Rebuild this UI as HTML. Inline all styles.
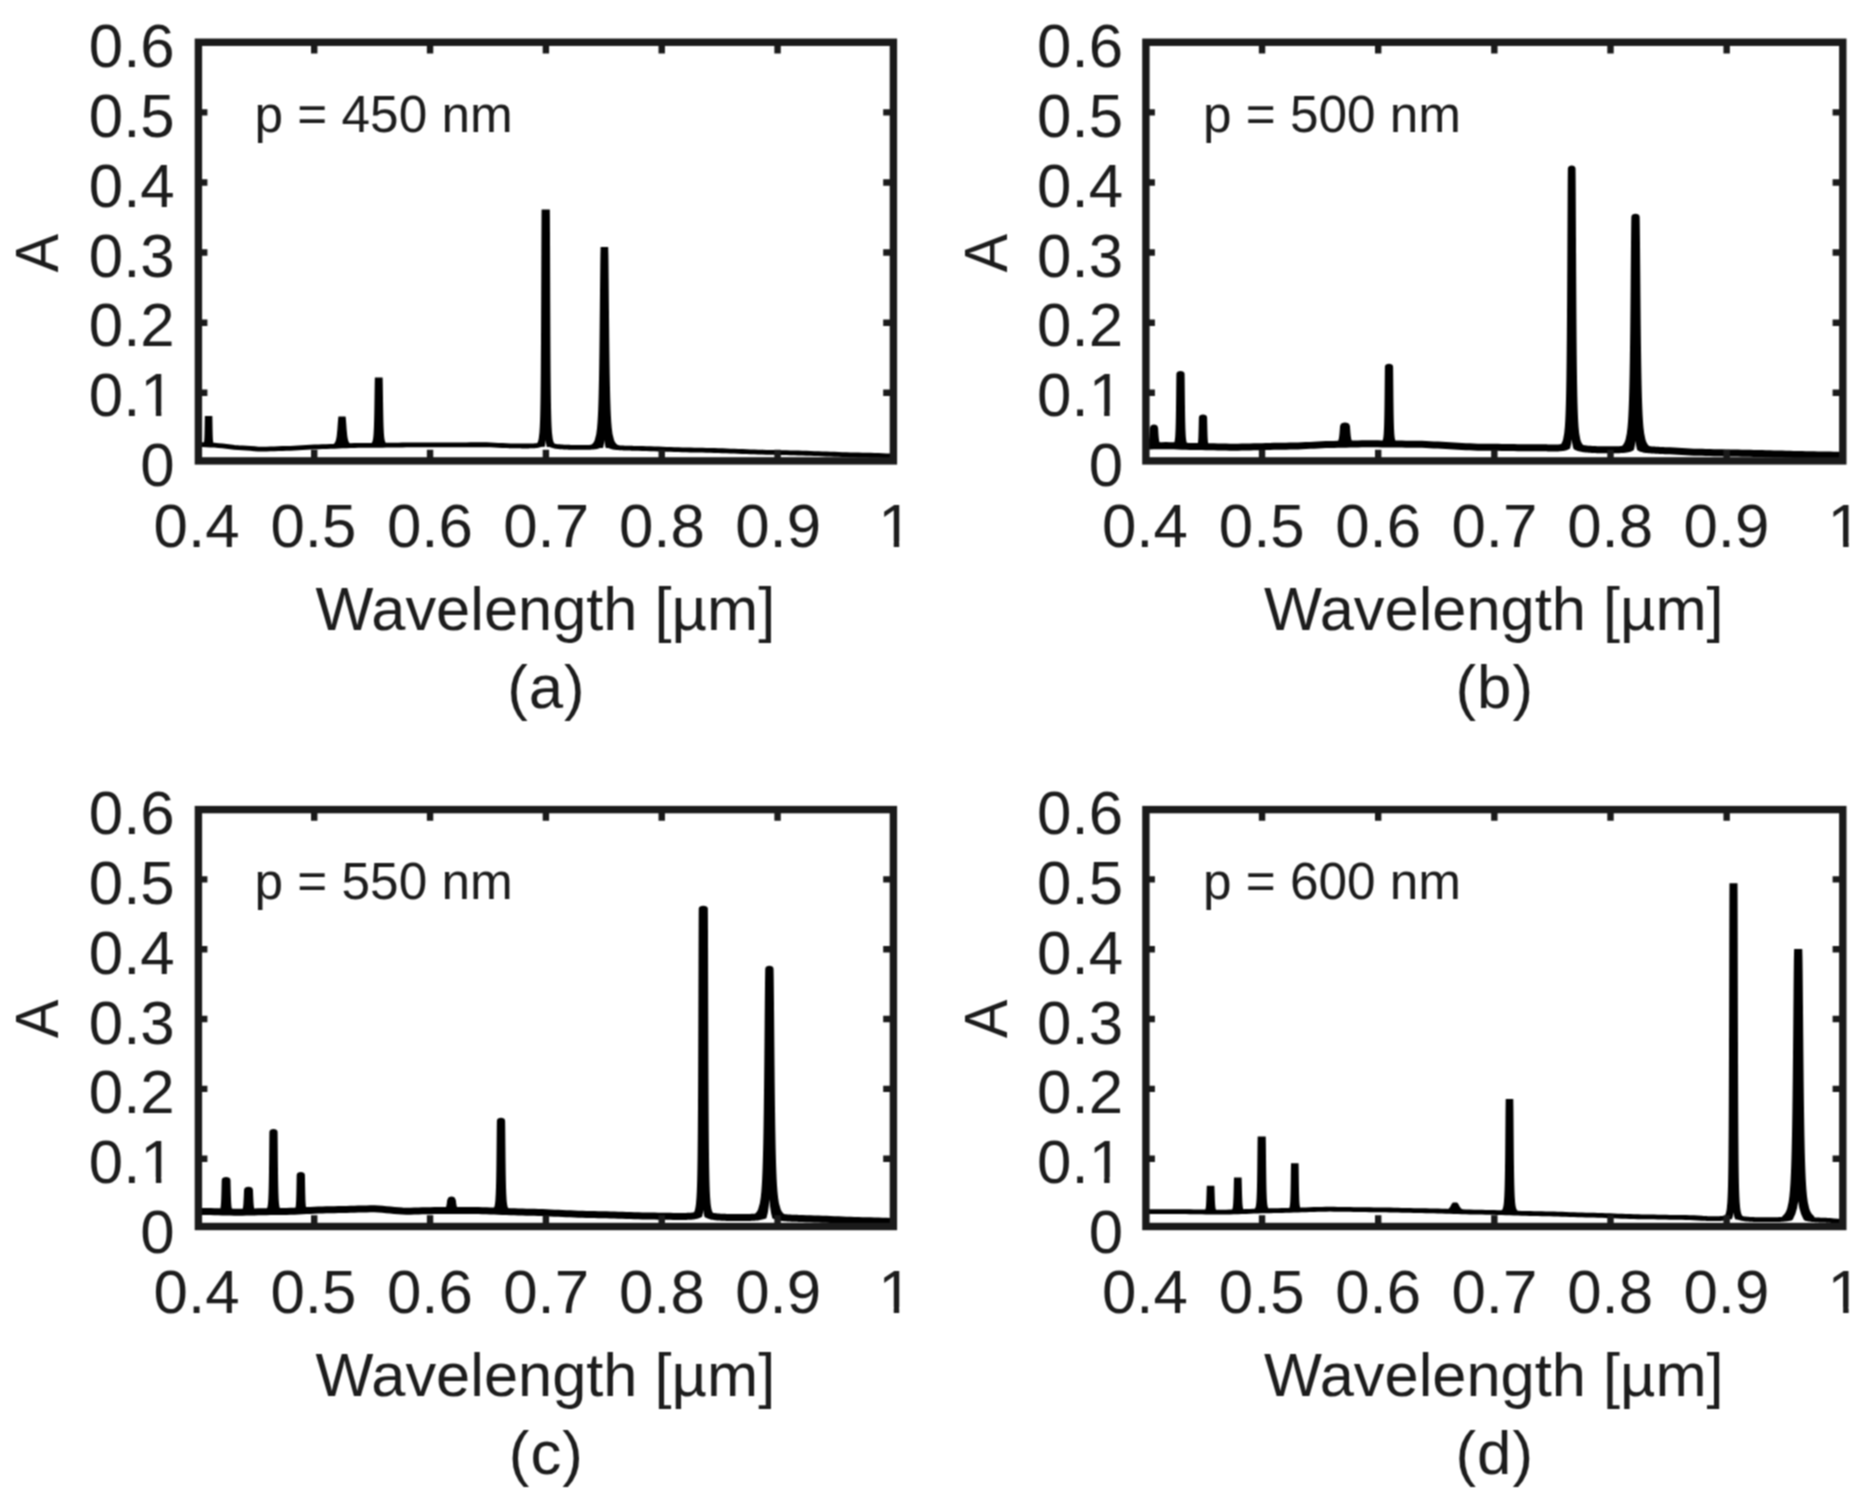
<!DOCTYPE html>
<html lang="en">
<head>
<meta charset="utf-8">
<title>Absorption spectra for different periods</title>
<style>
html,body{margin:0;padding:0;background:#fff;}
body{width:1874px;height:1503px;overflow:hidden;}
svg{display:block;}
</style>
</head>
<body>
<svg width="1874" height="1503" viewBox="0 0 1874 1503" font-family='"Liberation Sans", sans-serif' fill="#1c1c1c">
<defs><filter id="soft" color-interpolation-filters="sRGB" x="0" y="0" width="1874" height="1503" filterUnits="userSpaceOnUse"><feConvolveMatrix order="3" kernelMatrix="1 2 1 2 4 2 1 2 1" divisor="16" edgeMode="duplicate" preserveAlpha="true"/></filter></defs>
<rect width="1874" height="1503" fill="#ffffff"/>
<g filter="url(#soft)">
<rect width="1874" height="1503" fill="#ffffff"/>
<g id="panel-a">
<clipPath id="clip-a"><rect x="198.4" y="42.25" width="695.0" height="418.65"/></clipPath>
<g clip-path="url(#clip-a)">
<polyline points="198.4,444.51 202.4,444.66 206.4,444.87 210.4,445.07 214.4,445.22 218.4,445.52 222.4,445.94 226.4,446.42 230.4,446.92 234.4,447.36 238.4,447.70 242.4,447.90 246.4,448.14 250.4,448.45 254.4,448.76 258.4,449.03 262.4,449.19 266.4,449.10 270.4,448.97 274.4,448.81 278.4,448.65 282.4,448.50 286.4,448.38 290.4,448.29 294.4,448.13 298.4,447.91 302.4,447.65 306.4,447.39 310.4,447.14 314.4,446.93 318.4,446.79 322.4,446.70 326.4,446.58 330.4,446.44 334.4,446.29 338.4,446.12 342.4,445.95 346.4,445.79 350.4,445.65 354.4,445.52 358.4,445.42 362.4,445.38 366.4,445.36 370.4,445.33 374.4,445.30 378.4,445.26 382.4,445.23 386.4,445.18 390.4,445.14 394.4,445.10 398.4,445.06 402.4,445.01 406.4,444.97 410.4,444.93 414.4,444.90 418.4,444.86 422.4,444.83 426.4,444.81 430.4,444.79 434.4,444.79 438.4,444.79 442.4,444.79 446.4,444.78 450.4,444.78 454.4,444.78 458.4,444.78 462.4,444.78 466.4,444.78 470.4,444.77 474.4,444.77 478.4,444.77 482.4,444.76 486.4,444.77 490.4,444.90 494.4,445.09 498.4,445.31 502.4,445.52 506.4,445.72 510.4,445.86 514.4,445.91 515.7,445.92 516.7,445.93 517.7,445.94 518.4,445.95 518.7,445.95 519.7,445.96 520.7,445.97 521.7,445.98 522.4,445.98 522.7,445.99 523.7,445.99 524.7,446.00 525.7,446.00 526.4,446.00 526.7,446.00 527.7,446.00 528.7,445.99 529.7,445.97 530.4,445.96 530.7,445.95 531.7,445.92 532.7,445.88 533.7,445.83 534.4,445.78 534.7,445.75 535.7,445.66 536.7,445.53 537.7,445.35 538.4,445.20 538.7,445.13 539.7,444.84 540.7,444.46 541.7,444.00 542.4,443.63 542.7,443.47 543.7,442.93 544.7,442.51 545.7,442.37 546.4,442.48 546.7,442.58 547.7,443.06 548.7,443.66 549.7,444.25 550.4,444.63 550.7,444.78 551.7,445.21 552.7,445.56 553.7,445.85 554.4,446.02 554.7,446.08 555.7,446.27 556.7,446.43 557.7,446.56 558.4,446.64 558.7,446.67 559.7,446.76 560.7,446.85 561.7,446.92 562.4,446.96 562.7,446.98 563.7,447.04 564.7,447.09 565.7,447.13 566.4,447.16 566.7,447.17 567.7,447.21 568.7,447.24 569.7,447.27 570.4,447.29 570.7,447.30 571.7,447.32 572.7,447.34 573.7,447.35 574.4,447.36 574.7,447.36 575.4,447.36 575.7,447.37 576.4,447.37 577.4,447.38 578.4,447.38 579.4,447.39 580.4,447.39 581.4,447.39 582.4,447.39 583.4,447.38 584.4,447.38 585.4,447.37 586.4,447.35 587.4,447.34 588.4,447.31 589.4,447.28 590.4,447.24 591.4,447.18 592.4,447.12 593.4,447.03 594.4,446.92 595.4,446.77 596.4,446.59 597.4,446.35 598.4,446.05 599.4,445.66 600.4,445.18 601.4,444.64 602.4,444.08 603.4,443.65 604.4,443.50 605.4,443.69 606.4,444.16 607.4,444.74 608.4,445.33 609.4,445.84 610.4,446.26 611.4,446.60 612.4,446.87 613.4,447.09 614.4,447.27 615.4,447.42 616.4,447.54 617.4,447.64 618.4,447.72 619.4,447.80 620.4,447.86 621.4,447.92 622.4,447.97 623.4,448.01 624.4,448.05 625.4,448.08 626.4,448.11 627.4,448.14 628.4,448.17 629.4,448.19 630.4,448.21 631.4,448.23 632.4,448.25 633.4,448.28 634.4,448.30 638.4,448.40 642.4,448.51 646.4,448.62 650.4,448.74 654.4,448.87 658.4,449.00 662.4,449.14 666.4,449.28 670.4,449.41 674.4,449.54 678.4,449.67 682.4,449.79 686.4,449.90 690.4,450.00 694.4,450.09 698.4,450.16 702.4,450.22 706.4,450.30 710.4,450.40 714.4,450.51 718.4,450.64 722.4,450.77 726.4,450.91 730.4,451.05 734.4,451.20 738.4,451.36 742.4,451.51 746.4,451.66 750.4,451.80 754.4,451.94 758.4,452.07 762.4,452.19 766.4,452.30 770.4,452.39 774.4,452.47 778.4,452.53 782.4,452.61 786.4,452.69 790.4,452.79 794.4,452.90 798.4,453.02 802.4,453.14 806.4,453.27 810.4,453.41 814.4,453.55 818.4,453.69 822.4,453.84 826.4,453.98 830.4,454.13 834.4,454.27 838.4,454.41 842.4,454.55 846.4,454.68 850.4,454.80 854.4,454.92 858.4,455.02 862.4,455.12 866.4,455.20 870.4,455.27 874.4,455.35 878.4,455.47 882.4,455.62 886.4,455.78 890.4,455.92 893.4,455.99" fill="none" stroke="#000" stroke-width="4.8" stroke-linejoin="round"/>
<path d="M204.90 416.00 L212.30 416.00 L212.36 417.00 L212.47 423.00 L212.57 429.00 L212.71 435.00 L212.74 435.75 L212.77 436.50 L212.80 437.25 L212.83 438.00 L212.87 438.75 L212.92 439.50 L212.98 440.25 L213.05 441.00 L213.15 441.75 L213.28 442.50 L213.43 443.09 L214.93 445.25 L202.27 444.65 L203.77 443.09 L203.92 442.50 L204.05 441.75 L204.15 441.00 L204.22 440.25 L204.28 439.50 L204.33 438.75 L204.37 438.00 L204.40 437.25 L204.43 436.50 L204.46 435.75 L204.49 435.00 L204.63 429.00 L204.73 423.00 L204.84 417.00Z M338.50 416.50 L345.50 416.50 L345.74 417.50 L346.23 423.50 L346.65 429.50 L347.25 435.50 L347.35 436.25 L347.46 437.00 L347.59 437.75 L347.73 438.50 L347.89 439.25 L348.08 440.00 L348.30 440.75 L348.57 441.50 L348.92 442.25 L349.38 443.00 L350.05 443.75 L350.45 444.08 L351.95 445.60 L332.05 446.38 L333.55 444.08 L333.95 443.75 L334.62 443.00 L335.08 442.25 L335.43 441.50 L335.70 440.75 L335.92 440.00 L336.11 439.25 L336.27 438.50 L336.41 437.75 L336.54 437.00 L336.65 436.25 L336.75 435.50 L337.35 429.50 L337.77 423.50 L338.26 417.50Z M374.90 377.50 L382.60 377.50 L382.67 378.50 L382.80 384.50 L382.89 390.50 L382.97 396.50 L383.06 402.50 L383.15 408.50 L383.26 414.50 L383.39 420.50 L383.57 426.50 L383.85 432.50 L383.89 433.25 L383.94 434.00 L384.00 434.75 L384.06 435.50 L384.13 436.25 L384.21 437.00 L384.30 437.75 L384.40 438.50 L384.52 439.25 L384.67 440.00 L384.85 440.75 L385.07 441.50 L385.38 442.25 L385.83 443.00 L386.13 443.37 L387.63 445.18 L369.87 445.34 L371.37 443.37 L371.67 443.00 L372.12 442.25 L372.43 441.50 L372.65 440.75 L372.83 440.00 L372.98 439.25 L373.10 438.50 L373.20 437.75 L373.29 437.00 L373.37 436.25 L373.44 435.50 L373.50 434.75 L373.56 434.00 L373.61 433.25 L373.65 432.50 L373.93 426.50 L374.11 420.50 L374.24 414.50 L374.35 408.50 L374.44 402.50 L374.53 396.50 L374.61 390.50 L374.70 384.50 L374.83 378.50Z M541.60 209.50 L549.80 209.50 L549.84 210.50 L549.90 216.50 L549.93 222.50 L549.96 228.50 L549.99 234.50 L550.01 240.50 L550.04 246.50 L550.06 252.50 L550.08 258.50 L550.10 264.50 L550.12 270.50 L550.14 276.50 L550.17 282.50 L550.19 288.50 L550.21 294.50 L550.23 300.50 L550.26 306.50 L550.28 312.50 L550.31 318.50 L550.33 324.50 L550.36 330.50 L550.39 336.50 L550.42 342.50 L550.45 348.50 L550.49 354.50 L550.53 360.50 L550.57 366.50 L550.61 372.50 L550.66 378.50 L550.72 384.50 L550.79 390.50 L550.86 396.50 L550.95 402.50 L551.05 408.50 L551.18 414.50 L551.35 420.50 L551.59 426.50 L551.96 432.50 L552.67 438.50 L552.81 439.25 L552.98 440.00 L553.17 440.75 L553.40 441.50 L553.69 442.25 L554.05 443.00 L554.54 443.75 L555.24 444.50 L555.92 445.00 L557.42 447.27 L533.98 446.52 L535.48 445.00 L536.16 444.50 L536.86 443.75 L537.35 443.00 L537.71 442.25 L538.00 441.50 L538.23 440.75 L538.42 440.00 L538.59 439.25 L538.73 438.50 L539.44 432.50 L539.81 426.50 L540.05 420.50 L540.22 414.50 L540.35 408.50 L540.45 402.50 L540.54 396.50 L540.61 390.50 L540.68 384.50 L540.74 378.50 L540.79 372.50 L540.83 366.50 L540.87 360.50 L540.91 354.50 L540.95 348.50 L540.98 342.50 L541.01 336.50 L541.04 330.50 L541.07 324.50 L541.09 318.50 L541.12 312.50 L541.14 306.50 L541.17 300.50 L541.19 294.50 L541.21 288.50 L541.23 282.50 L541.26 276.50 L541.28 270.50 L541.30 264.50 L541.32 258.50 L541.34 252.50 L541.36 246.50 L541.39 240.50 L541.41 234.50 L541.44 228.50 L541.47 222.50 L541.50 216.50 L541.56 210.50Z M600.65 247.00 L608.15 247.00 L608.23 248.00 L608.38 254.00 L608.47 260.00 L608.54 266.00 L608.60 272.00 L608.66 278.00 L608.72 284.00 L608.78 290.00 L608.83 296.00 L608.89 302.00 L608.94 308.00 L609.00 314.00 L609.06 320.00 L609.12 326.00 L609.18 332.00 L609.24 338.00 L609.31 344.00 L609.38 350.00 L609.46 356.00 L609.54 362.00 L609.63 368.00 L609.72 374.00 L609.83 380.00 L609.95 386.00 L610.08 392.00 L610.23 398.00 L610.42 404.00 L610.63 410.00 L610.91 416.00 L611.26 422.00 L611.76 428.00 L612.53 434.00 L614.03 440.00 L614.34 440.75 L614.70 441.50 L615.12 442.25 L615.64 443.00 L616.28 443.75 L617.12 444.50 L618.28 445.25 L620.02 446.00 L620.40 446.13 L621.90 448.30 L586.90 447.75 L588.40 446.13 L588.78 446.00 L590.52 445.25 L591.68 444.50 L592.52 443.75 L593.16 443.00 L593.68 442.25 L594.10 441.50 L594.46 440.75 L594.77 440.00 L596.27 434.00 L597.04 428.00 L597.54 422.00 L597.89 416.00 L598.17 410.00 L598.38 404.00 L598.57 398.00 L598.72 392.00 L598.85 386.00 L598.97 380.00 L599.08 374.00 L599.17 368.00 L599.26 362.00 L599.34 356.00 L599.42 350.00 L599.49 344.00 L599.56 338.00 L599.62 332.00 L599.68 326.00 L599.74 320.00 L599.80 314.00 L599.86 308.00 L599.91 302.00 L599.97 296.00 L600.02 290.00 L600.08 284.00 L600.14 278.00 L600.20 272.00 L600.26 266.00 L600.33 260.00 L600.42 254.00 L600.57 248.00Z" fill="#000"/>
<path d="M545.70 439.90 Q546.18 446.50 547.90 449.60 L543.50 449.60 Q545.22 446.50 545.70 439.90Z M604.40 440.03 Q604.95 447.31 606.90 450.73 L601.90 450.73 Q603.85 447.31 604.40 440.03Z" fill="#fff"/>
</g>
<rect x="198.4" y="42.25" width="695.00" height="418.65" fill="none" stroke="#1a1a1a" stroke-width="7.4"/>
<path d="M314.23 42.25 v11.2 M314.23 460.9 v-11.2 M430.07 42.25 v11.2 M430.07 460.9 v-11.2 M545.90 42.25 v11.2 M545.90 460.9 v-11.2 M661.73 42.25 v11.2 M661.73 460.9 v-11.2 M777.57 42.25 v11.2 M777.57 460.9 v-11.2 M198.4 112.36 h9.0 M893.4 112.36 h-10.2 M198.4 182.47 h9.0 M893.4 182.47 h-10.2 M198.4 252.57 h9.0 M893.4 252.57 h-10.2 M198.4 322.68 h9.0 M893.4 322.68 h-10.2 M198.4 392.79 h9.0 M893.4 392.79 h-10.2" stroke="#1a1a1a" stroke-width="6.4" fill="none"/>
<text x="174.7" y="67.0" font-size="61.8" text-anchor="end">0.6</text>
<text x="174.7" y="136.8" font-size="61.8" text-anchor="end">0.5</text>
<text x="174.7" y="206.7" font-size="61.8" text-anchor="end">0.4</text>
<text x="174.7" y="276.5" font-size="61.8" text-anchor="end">0.3</text>
<text x="174.7" y="346.4" font-size="61.8" text-anchor="end">0.2</text>
<text x="174.7" y="416.2" font-size="61.8" text-anchor="end">0.1</text>
<rect x="143.54" y="410.43" width="12.33" height="7.42" fill="#fff"/><rect x="161.33" y="410.43" width="11.85" height="7.42" fill="#fff"/>
<text x="174.7" y="486.1" font-size="61.8" text-anchor="end">0</text>
<text x="153.6" y="547.2" font-size="61.8">0.4</text>
<text x="270.5" y="547.2" font-size="61.8">0.5</text>
<text x="386.9" y="547.2" font-size="61.8">0.6</text>
<text x="503.2" y="547.2" font-size="61.8">0.7</text>
<text x="618.9" y="547.2" font-size="61.8">0.8</text>
<text x="735.2" y="547.2" font-size="61.8">0.9</text>
<text x="895.4" y="547.2" font-size="61.8" text-anchor="middle">1</text>
<rect x="881.42" y="541.38" width="12.33" height="7.42" fill="#fff"/><rect x="899.22" y="541.38" width="11.85" height="7.42" fill="#fff"/>
<text x="545.4" y="630.2" font-size="61.4" text-anchor="middle">Wavelength [µm]</text>
<text x="546.4" y="708.3" font-size="61.8" text-anchor="middle" letter-spacing="1.0">(a)</text>
<text transform="translate(58.3,253.1) rotate(-90) scale(0.93,1)" font-size="61.8" text-anchor="middle">A</text>
<text x="254.6" y="132.2" font-size="51.3">p = 450 nm</text>
</g>
<g id="panel-b">
<clipPath id="clip-b"><rect x="1145.9" y="42.25" width="696.8999999999999" height="418.65"/></clipPath>
<g clip-path="url(#clip-b)">
<polyline points="1145.9,446.00 1149.9,445.94 1153.9,445.84 1157.9,445.74 1161.9,445.65 1165.9,445.61 1169.9,445.71 1173.9,445.84 1177.9,445.99 1181.9,446.15 1185.9,446.28 1189.9,446.38 1193.9,446.43 1197.9,446.50 1201.9,446.57 1205.9,446.66 1209.9,446.76 1213.9,446.86 1217.9,446.95 1221.9,447.04 1225.9,447.11 1229.9,447.17 1233.9,447.18 1237.9,447.13 1241.9,447.07 1245.9,447.00 1249.9,446.92 1253.9,446.83 1257.9,446.74 1261.9,446.65 1265.9,446.55 1269.9,446.46 1273.9,446.37 1277.9,446.28 1281.9,446.20 1285.9,446.13 1289.9,446.07 1293.9,446.02 1297.9,445.95 1301.9,445.79 1305.9,445.59 1309.9,445.37 1313.9,445.14 1317.9,444.91 1321.9,444.71 1325.9,444.56 1329.9,444.48 1333.9,444.42 1337.9,444.36 1341.9,444.28 1345.9,444.19 1349.9,444.10 1353.9,444.02 1357.9,443.94 1361.9,443.87 1365.9,443.82 1369.9,443.80 1373.9,443.83 1377.9,443.86 1381.9,443.89 1385.9,443.93 1389.9,443.97 1393.9,444.01 1397.9,444.06 1401.9,444.09 1405.9,444.13 1409.9,444.16 1413.9,444.18 1417.9,444.24 1421.9,444.37 1425.9,444.52 1429.9,444.70 1433.9,444.90 1437.9,445.11 1441.9,445.34 1445.9,445.57 1449.9,445.80 1453.9,446.03 1457.9,446.26 1461.9,446.47 1465.9,446.67 1469.9,446.85 1473.9,447.00 1477.9,447.13 1481.9,447.19 1485.9,447.23 1489.9,447.27 1493.9,447.31 1497.9,447.36 1501.9,447.42 1505.9,447.47 1509.9,447.53 1513.9,447.59 1517.9,447.64 1521.9,447.70 1525.9,447.75 1529.9,447.79 1533.9,447.82 1537.9,447.84 1541.7,447.85 1541.9,447.85 1542.7,447.85 1543.7,447.85 1544.7,447.85 1545.7,447.86 1545.9,447.86 1546.7,447.87 1547.7,447.89 1548.7,447.91 1549.7,447.93 1549.9,447.93 1550.7,447.94 1551.7,447.96 1552.7,447.97 1553.7,447.98 1553.9,447.98 1554.7,447.98 1555.7,447.97 1556.7,447.95 1557.7,447.92 1557.9,447.91 1558.7,447.88 1559.7,447.81 1560.7,447.72 1561.7,447.61 1561.9,447.59 1562.7,447.48 1563.7,447.30 1564.7,447.07 1565.7,446.78 1565.9,446.71 1566.7,446.40 1567.7,445.94 1568.7,445.41 1569.7,444.88 1569.9,444.78 1570.7,444.47 1571.7,444.33 1572.7,444.55 1573.7,445.04 1573.9,445.15 1574.7,445.65 1575.7,446.26 1576.7,446.80 1577.7,447.24 1577.9,447.32 1578.7,447.61 1579.7,447.91 1580.7,448.16 1581.7,448.37 1581.9,448.40 1582.7,448.54 1583.7,448.69 1584.7,448.82 1585.7,448.93 1585.9,448.95 1586.7,449.03 1587.7,449.12 1588.7,449.20 1589.7,449.28 1589.9,449.29 1590.7,449.35 1591.7,449.41 1592.7,449.47 1593.7,449.52 1593.9,449.53 1594.7,449.57 1595.7,449.61 1596.7,449.65 1597.7,449.69 1597.9,449.69 1598.7,449.72 1599.7,449.75 1600.7,449.77 1601.7,449.78 1601.9,449.79 1605.5,449.80 1605.9,449.80 1606.5,449.80 1607.5,449.80 1608.5,449.80 1609.5,449.80 1609.9,449.80 1610.5,449.80 1611.5,449.79 1612.5,449.79 1613.5,449.78 1613.9,449.77 1614.5,449.77 1615.5,449.75 1616.5,449.74 1617.5,449.71 1617.9,449.70 1618.5,449.69 1619.5,449.66 1620.5,449.62 1621.5,449.57 1621.9,449.54 1622.5,449.50 1623.5,449.43 1624.5,449.33 1625.5,449.21 1625.9,449.15 1626.5,449.06 1627.5,448.87 1628.5,448.62 1629.5,448.30 1629.9,448.15 1630.5,447.91 1631.5,447.42 1632.5,446.86 1633.5,446.30 1633.9,446.10 1634.5,445.86 1635.5,445.70 1636.5,445.88 1637.5,446.33 1637.9,446.56 1638.5,446.91 1639.5,447.48 1640.5,447.98 1641.5,448.39 1641.9,448.54 1642.5,448.72 1643.5,448.99 1644.5,449.20 1645.5,449.36 1645.9,449.42 1646.5,449.50 1647.5,449.61 1648.5,449.70 1649.5,449.77 1649.9,449.80 1650.5,449.84 1651.5,449.91 1652.5,449.98 1653.5,450.05 1653.9,450.07 1654.5,450.11 1655.5,450.17 1656.5,450.23 1657.5,450.29 1657.9,450.32 1658.5,450.35 1659.5,450.41 1660.5,450.46 1661.5,450.51 1661.9,450.53 1662.5,450.55 1663.5,450.59 1664.5,450.63 1665.5,450.66 1665.9,450.67 1669.9,450.83 1673.9,451.04 1677.9,451.29 1681.9,451.55 1685.9,451.80 1689.9,452.02 1693.9,452.20 1697.9,452.29 1701.9,452.36 1705.9,452.44 1709.9,452.54 1713.9,452.65 1717.9,452.75 1721.9,452.85 1725.9,452.93 1729.9,452.98 1733.9,453.03 1737.9,453.09 1741.9,453.15 1745.9,453.23 1749.9,453.31 1753.9,453.39 1757.9,453.48 1761.9,453.58 1765.9,453.68 1769.9,453.78 1773.9,453.88 1777.9,453.99 1781.9,454.09 1785.9,454.20 1789.9,454.30 1793.9,454.40 1797.9,454.49 1801.9,454.59 1805.9,454.67 1809.9,454.75 1813.9,454.82 1817.9,454.89 1821.9,454.95 1825.9,454.99 1829.9,455.09 1833.9,455.22 1837.9,455.37 1841.9,455.48 1842.8,455.49" fill="none" stroke="#000" stroke-width="7.0" stroke-linejoin="round"/>
<path d="M1150.25 427.00 L1150.54 426.04 L1151.35 425.23 L1152.56 424.69 L1154.00 424.50 L1155.44 424.69 L1156.65 425.23 L1157.46 426.04 L1157.75 427.00 L1158.10 428.00 L1158.47 434.00 L1158.52 434.75 L1158.58 435.50 L1158.64 436.25 L1158.70 437.00 L1158.77 437.75 L1158.85 438.50 L1158.95 439.25 L1159.05 440.00 L1159.18 440.75 L1159.33 441.50 L1159.53 442.25 L1159.73 442.84 L1161.23 445.66 L1146.77 445.99 L1148.27 442.84 L1148.47 442.25 L1148.67 441.50 L1148.82 440.75 L1148.95 440.00 L1149.05 439.25 L1149.15 438.50 L1149.23 437.75 L1149.30 437.00 L1149.36 436.25 L1149.42 435.50 L1149.48 434.75 L1149.53 434.00 L1149.90 428.00Z M1176.50 373.50 L1176.80 372.54 L1177.67 371.73 L1178.97 371.19 L1180.50 371.00 L1182.03 371.19 L1183.33 371.73 L1184.20 372.54 L1184.50 373.50 L1184.61 374.50 L1184.69 380.50 L1184.75 386.50 L1184.82 392.50 L1184.88 398.50 L1184.95 404.50 L1185.03 410.50 L1185.12 416.50 L1185.24 422.50 L1185.40 428.50 L1185.67 434.50 L1185.72 435.25 L1185.77 436.00 L1185.83 436.75 L1185.89 437.50 L1185.96 438.25 L1186.05 439.00 L1186.15 439.75 L1186.26 440.50 L1186.40 441.25 L1186.58 442.00 L1186.82 442.75 L1186.95 443.10 L1188.45 446.35 L1172.55 445.80 L1174.05 443.10 L1174.18 442.75 L1174.42 442.00 L1174.60 441.25 L1174.74 440.50 L1174.85 439.75 L1174.95 439.00 L1175.04 438.25 L1175.11 437.50 L1175.17 436.75 L1175.23 436.00 L1175.28 435.25 L1175.33 434.50 L1175.60 428.50 L1175.76 422.50 L1175.88 416.50 L1175.97 410.50 L1176.05 404.50 L1176.12 398.50 L1176.18 392.50 L1176.25 386.50 L1176.31 380.50 L1176.39 374.50Z M1199.00 417.00 L1199.30 416.04 L1200.17 415.23 L1201.47 414.69 L1203.00 414.50 L1204.53 414.69 L1205.83 415.23 L1206.70 416.04 L1207.00 417.00 L1207.14 418.00 L1207.26 424.00 L1207.39 430.00 L1207.57 436.00 L1207.60 436.75 L1207.64 437.50 L1207.67 438.25 L1207.72 439.00 L1207.77 439.75 L1207.83 440.50 L1207.89 441.25 L1207.98 442.00 L1208.08 442.75 L1208.22 443.50 L1208.25 443.60 L1209.75 446.76 L1196.25 446.47 L1197.75 443.60 L1197.78 443.50 L1197.92 442.75 L1198.02 442.00 L1198.11 441.25 L1198.17 440.50 L1198.23 439.75 L1198.28 439.00 L1198.33 438.25 L1198.36 437.50 L1198.40 436.75 L1198.43 436.00 L1198.61 430.00 L1198.74 424.00 L1198.86 418.00Z M1340.50 425.00 L1340.84 424.04 L1341.82 423.23 L1343.28 422.69 L1345.00 422.50 L1346.72 422.69 L1348.18 423.23 L1349.16 424.04 L1349.50 425.00 L1349.94 426.00 L1350.38 432.00 L1350.45 432.75 L1350.51 433.50 L1350.59 434.25 L1350.66 435.00 L1350.75 435.75 L1350.85 436.50 L1350.96 437.25 L1351.08 438.00 L1351.22 438.75 L1351.40 439.50 L1351.62 440.25 L1351.90 441.00 L1352.00 441.22 L1353.50 444.03 L1336.50 444.38 L1338.00 441.22 L1338.10 441.00 L1338.38 440.25 L1338.60 439.50 L1338.78 438.75 L1338.92 438.00 L1339.04 437.25 L1339.15 436.50 L1339.25 435.75 L1339.34 435.00 L1339.41 434.25 L1339.49 433.50 L1339.55 432.75 L1339.62 432.00 L1340.06 426.00Z M1385.00 366.25 L1385.30 365.29 L1386.17 364.48 L1387.47 363.94 L1389.00 363.75 L1390.53 363.94 L1391.83 364.48 L1392.70 365.29 L1393.00 366.25 L1393.11 367.25 L1393.18 373.25 L1393.24 379.25 L1393.30 385.25 L1393.36 391.25 L1393.42 397.25 L1393.49 403.25 L1393.57 409.25 L1393.67 415.25 L1393.80 421.25 L1393.97 427.25 L1394.27 433.25 L1394.33 434.00 L1394.39 434.75 L1394.46 435.50 L1394.53 436.25 L1394.62 437.00 L1394.72 437.75 L1394.85 438.50 L1395.00 439.25 L1395.19 440.00 L1395.45 440.75 L1395.54 440.97 L1397.04 444.05 L1380.96 443.89 L1382.46 440.97 L1382.55 440.75 L1382.81 440.00 L1383.00 439.25 L1383.15 438.50 L1383.28 437.75 L1383.38 437.00 L1383.47 436.25 L1383.54 435.50 L1383.61 434.75 L1383.67 434.00 L1383.73 433.25 L1384.03 427.25 L1384.20 421.25 L1384.33 415.25 L1384.43 409.25 L1384.51 403.25 L1384.58 397.25 L1384.64 391.25 L1384.70 385.25 L1384.76 379.25 L1384.82 373.25 L1384.89 367.25Z M1567.95 168.10 L1568.24 167.14 L1569.05 166.33 L1570.26 165.79 L1571.70 165.60 L1573.14 165.79 L1574.35 166.33 L1575.16 167.14 L1575.45 168.10 L1575.55 169.10 L1575.62 175.10 L1575.67 181.10 L1575.71 187.10 L1575.75 193.10 L1575.78 199.10 L1575.81 205.10 L1575.84 211.10 L1575.87 217.10 L1575.90 223.10 L1575.93 229.10 L1575.96 235.10 L1575.99 241.10 L1576.02 247.10 L1576.05 253.10 L1576.08 259.10 L1576.11 265.10 L1576.14 271.10 L1576.18 277.10 L1576.21 283.10 L1576.24 289.10 L1576.28 295.10 L1576.31 301.10 L1576.35 307.10 L1576.39 313.10 L1576.43 319.10 L1576.47 325.10 L1576.52 331.10 L1576.56 337.10 L1576.62 343.10 L1576.67 349.10 L1576.73 355.10 L1576.79 361.10 L1576.86 367.10 L1576.94 373.10 L1577.02 379.10 L1577.12 385.10 L1577.23 391.10 L1577.35 397.10 L1577.50 403.10 L1577.68 409.10 L1577.90 415.10 L1578.18 421.10 L1578.57 427.10 L1579.16 433.10 L1580.21 439.10 L1580.41 439.85 L1580.64 440.60 L1580.90 441.35 L1581.20 442.10 L1581.56 442.85 L1581.99 443.60 L1582.52 444.35 L1583.21 445.10 L1584.13 445.85 L1584.15 445.86 L1585.65 449.48 L1557.75 448.45 L1559.25 445.86 L1559.27 445.85 L1560.19 445.10 L1560.88 444.35 L1561.41 443.60 L1561.84 442.85 L1562.20 442.10 L1562.50 441.35 L1562.76 440.60 L1562.99 439.85 L1563.19 439.10 L1564.24 433.10 L1564.83 427.10 L1565.22 421.10 L1565.50 415.10 L1565.72 409.10 L1565.90 403.10 L1566.05 397.10 L1566.17 391.10 L1566.28 385.10 L1566.38 379.10 L1566.46 373.10 L1566.54 367.10 L1566.61 361.10 L1566.67 355.10 L1566.73 349.10 L1566.78 343.10 L1566.84 337.10 L1566.88 331.10 L1566.93 325.10 L1566.97 319.10 L1567.01 313.10 L1567.05 307.10 L1567.09 301.10 L1567.12 295.10 L1567.16 289.10 L1567.19 283.10 L1567.22 277.10 L1567.26 271.10 L1567.29 265.10 L1567.32 259.10 L1567.35 253.10 L1567.38 247.10 L1567.41 241.10 L1567.44 235.10 L1567.47 229.10 L1567.50 223.10 L1567.53 217.10 L1567.56 211.10 L1567.59 205.10 L1567.62 199.10 L1567.65 193.10 L1567.69 187.10 L1567.73 181.10 L1567.78 175.10 L1567.85 169.10Z M1631.50 216.25 L1631.80 215.29 L1632.67 214.48 L1633.97 213.94 L1635.50 213.75 L1637.03 213.94 L1638.33 214.48 L1639.20 215.29 L1639.50 216.25 L1639.66 217.25 L1639.77 223.25 L1639.84 229.25 L1639.91 235.25 L1639.97 241.25 L1640.03 247.25 L1640.08 253.25 L1640.13 259.25 L1640.19 265.25 L1640.24 271.25 L1640.29 277.25 L1640.34 283.25 L1640.39 289.25 L1640.44 295.25 L1640.50 301.25 L1640.55 307.25 L1640.61 313.25 L1640.67 319.25 L1640.73 325.25 L1640.79 331.25 L1640.86 337.25 L1640.93 343.25 L1641.01 349.25 L1641.09 355.25 L1641.17 361.25 L1641.27 367.25 L1641.37 373.25 L1641.49 379.25 L1641.61 385.25 L1641.76 391.25 L1641.92 397.25 L1642.11 403.25 L1642.34 409.25 L1642.62 415.25 L1642.98 421.25 L1643.46 427.25 L1644.17 433.25 L1645.39 439.25 L1645.62 440.00 L1645.86 440.75 L1646.14 441.50 L1646.46 442.25 L1646.82 443.00 L1647.25 443.75 L1647.75 444.50 L1648.37 445.25 L1649.14 446.00 L1650.15 446.75 L1650.97 447.22 L1652.47 450.35 L1618.53 450.10 L1620.03 447.22 L1620.85 446.75 L1621.86 446.00 L1622.63 445.25 L1623.25 444.50 L1623.75 443.75 L1624.18 443.00 L1624.54 442.25 L1624.86 441.50 L1625.14 440.75 L1625.38 440.00 L1625.61 439.25 L1626.83 433.25 L1627.54 427.25 L1628.02 421.25 L1628.38 415.25 L1628.66 409.25 L1628.89 403.25 L1629.08 397.25 L1629.24 391.25 L1629.39 385.25 L1629.51 379.25 L1629.63 373.25 L1629.73 367.25 L1629.83 361.25 L1629.91 355.25 L1629.99 349.25 L1630.07 343.25 L1630.14 337.25 L1630.21 331.25 L1630.27 325.25 L1630.33 319.25 L1630.39 313.25 L1630.45 307.25 L1630.50 301.25 L1630.56 295.25 L1630.61 289.25 L1630.66 283.25 L1630.71 277.25 L1630.76 271.25 L1630.81 265.25 L1630.87 259.25 L1630.92 253.25 L1630.97 247.25 L1631.03 241.25 L1631.09 235.25 L1631.16 229.25 L1631.23 223.25 L1631.34 217.25Z" fill="#000"/>
<path d="M1571.70 439.36 Q1572.49 448.41 1575.30 452.66 L1568.10 452.66 Q1570.91 448.41 1571.70 439.36Z M1635.50 440.72 Q1636.29 449.77 1639.10 454.02 L1631.90 454.02 Q1634.71 449.77 1635.50 440.72Z" fill="#fff"/>
</g>
<rect x="1145.9" y="42.25" width="696.90" height="418.65" fill="none" stroke="#1a1a1a" stroke-width="7.4"/>
<path d="M1262.05 42.25 v11.2 M1262.05 460.9 v-11.2 M1378.20 42.25 v11.2 M1378.20 460.9 v-11.2 M1494.35 42.25 v11.2 M1494.35 460.9 v-11.2 M1610.50 42.25 v11.2 M1610.50 460.9 v-11.2 M1726.65 42.25 v11.2 M1726.65 460.9 v-11.2 M1145.9 112.36 h9.0 M1842.8 112.36 h-10.2 M1145.9 182.47 h9.0 M1842.8 182.47 h-10.2 M1145.9 252.57 h9.0 M1842.8 252.57 h-10.2 M1145.9 322.68 h9.0 M1842.8 322.68 h-10.2 M1145.9 392.79 h9.0 M1842.8 392.79 h-10.2" stroke="#1a1a1a" stroke-width="6.4" fill="none"/>
<text x="1123.0" y="67.0" font-size="61.8" text-anchor="end">0.6</text>
<text x="1123.0" y="136.8" font-size="61.8" text-anchor="end">0.5</text>
<text x="1123.0" y="206.7" font-size="61.8" text-anchor="end">0.4</text>
<text x="1123.0" y="276.5" font-size="61.8" text-anchor="end">0.3</text>
<text x="1123.0" y="346.4" font-size="61.8" text-anchor="end">0.2</text>
<text x="1123.0" y="416.2" font-size="61.8" text-anchor="end">0.1</text>
<rect x="1091.84" y="410.43" width="12.33" height="7.42" fill="#fff"/><rect x="1109.63" y="410.43" width="11.85" height="7.42" fill="#fff"/>
<text x="1123.0" y="486.1" font-size="61.8" text-anchor="end">0</text>
<text x="1101.9" y="547.2" font-size="61.8">0.4</text>
<text x="1218.8" y="547.2" font-size="61.8">0.5</text>
<text x="1335.2" y="547.2" font-size="61.8">0.6</text>
<text x="1451.5" y="547.2" font-size="61.8">0.7</text>
<text x="1567.2" y="547.2" font-size="61.8">0.8</text>
<text x="1683.5" y="547.2" font-size="61.8">0.9</text>
<text x="1844.8" y="547.2" font-size="61.8" text-anchor="middle">1</text>
<rect x="1830.82" y="541.38" width="12.33" height="7.42" fill="#fff"/><rect x="1848.62" y="541.38" width="11.85" height="7.42" fill="#fff"/>
<text x="1493.8" y="630.2" font-size="61.4" text-anchor="middle">Wavelength [µm]</text>
<text x="1494.8" y="708.3" font-size="61.8" text-anchor="middle" letter-spacing="1.0">(b)</text>
<text transform="translate(1006.6,253.1) rotate(-90) scale(0.93,1)" font-size="61.8" text-anchor="middle">A</text>
<text x="1202.9" y="132.2" font-size="51.3">p = 500 nm</text>
</g>
<g id="panel-c">
<clipPath id="clip-c"><rect x="198.4" y="809.6" width="695.0" height="416.9"/></clipPath>
<g clip-path="url(#clip-c)">
<polyline points="198.4,1211.40 202.4,1211.46 206.4,1211.53 210.4,1211.62 214.4,1211.72 218.4,1211.82 222.4,1211.92 226.4,1212.02 230.4,1212.10 234.4,1212.17 238.4,1212.19 242.4,1212.14 246.4,1212.08 250.4,1212.02 254.4,1211.94 258.4,1211.86 262.4,1211.78 266.4,1211.70 270.4,1211.62 274.4,1211.55 278.4,1211.49 282.4,1211.43 286.4,1211.39 290.4,1211.28 294.4,1211.14 298.4,1210.97 302.4,1210.78 306.4,1210.58 310.4,1210.38 314.4,1210.19 318.4,1210.03 322.4,1209.89 326.4,1209.79 330.4,1209.74 334.4,1209.67 338.4,1209.59 342.4,1209.49 346.4,1209.39 350.4,1209.29 354.4,1209.18 358.4,1209.08 362.4,1208.99 366.4,1208.91 370.4,1208.84 374.4,1208.81 378.4,1209.02 382.4,1209.32 386.4,1209.66 390.4,1210.03 394.4,1210.40 398.4,1210.74 402.4,1211.02 406.4,1211.19 410.4,1211.13 414.4,1211.05 418.4,1210.94 422.4,1210.84 426.4,1210.73 430.4,1210.63 434.4,1210.55 438.4,1210.50 442.4,1210.50 446.4,1210.51 450.4,1210.52 454.4,1210.54 458.4,1210.55 462.4,1210.56 466.4,1210.57 470.4,1210.58 474.4,1210.59 478.4,1210.62 482.4,1210.70 486.4,1210.81 490.4,1210.94 494.4,1211.08 498.4,1211.23 502.4,1211.39 506.4,1211.55 510.4,1211.70 514.4,1211.84 518.4,1211.97 522.4,1212.08 526.4,1212.17 530.4,1212.24 534.4,1212.35 538.4,1212.47 542.4,1212.62 546.4,1212.78 550.4,1212.95 554.4,1213.13 558.4,1213.31 562.4,1213.50 566.4,1213.69 570.4,1213.87 574.4,1214.04 578.4,1214.19 582.4,1214.33 586.4,1214.45 590.4,1214.55 594.4,1214.62 598.4,1214.68 602.4,1214.77 606.4,1214.86 610.4,1214.97 614.4,1215.08 618.4,1215.20 622.4,1215.32 626.4,1215.45 630.4,1215.57 634.4,1215.68 638.4,1215.79 642.4,1215.89 646.4,1215.98 650.4,1216.06 654.4,1216.12 658.4,1216.15 662.4,1216.21 666.4,1216.27 670.4,1216.34 673.3,1216.39 674.3,1216.40 674.4,1216.40 675.3,1216.41 676.3,1216.42 677.3,1216.44 678.3,1216.44 678.4,1216.44 679.3,1216.45 680.3,1216.45 681.3,1216.45 682.3,1216.45 682.4,1216.45 683.3,1216.44 684.3,1216.43 685.3,1216.42 686.3,1216.39 686.4,1216.39 687.3,1216.36 688.3,1216.32 689.3,1216.27 690.3,1216.22 690.4,1216.21 691.3,1216.14 692.3,1216.05 693.3,1215.94 694.3,1215.80 694.4,1215.78 695.3,1215.62 696.3,1215.38 697.3,1215.08 698.3,1214.69 698.4,1214.65 699.3,1214.22 700.3,1213.68 701.3,1213.13 702.3,1212.71 702.4,1212.68 703.3,1212.56 704.3,1212.76 705.3,1213.24 706.3,1213.83 706.4,1213.89 707.3,1214.42 708.3,1214.94 709.3,1215.38 710.3,1215.73 710.4,1215.76 711.3,1216.01 712.3,1216.24 713.3,1216.42 714.3,1216.58 714.4,1216.59 715.3,1216.71 716.3,1216.82 717.3,1216.91 718.3,1217.00 718.4,1217.00 719.3,1217.07 720.3,1217.13 721.3,1217.19 722.3,1217.24 722.4,1217.24 723.3,1217.28 724.3,1217.32 725.3,1217.36 726.3,1217.39 726.4,1217.40 727.3,1217.42 728.3,1217.45 729.3,1217.47 730.3,1217.49 730.4,1217.49 731.3,1217.51 732.3,1217.52 733.3,1217.52 734.4,1217.53 738.4,1217.54 739.4,1217.54 740.4,1217.54 741.4,1217.54 742.4,1217.54 743.4,1217.53 744.4,1217.52 745.4,1217.51 746.4,1217.50 747.4,1217.48 748.4,1217.46 749.4,1217.44 750.4,1217.41 751.4,1217.37 752.4,1217.32 753.4,1217.27 754.4,1217.21 755.4,1217.13 756.4,1217.03 757.4,1216.92 758.4,1216.78 759.4,1216.61 760.4,1216.41 761.4,1216.18 762.4,1215.89 763.4,1215.57 764.4,1215.20 765.4,1214.80 766.4,1214.41 767.4,1214.07 768.4,1213.83 769.4,1213.76 770.4,1213.86 771.4,1214.13 772.4,1214.50 773.4,1214.93 774.4,1215.36 775.4,1215.76 776.4,1216.12 777.4,1216.43 778.4,1216.70 779.4,1216.93 780.4,1217.13 781.4,1217.29 782.4,1217.44 783.4,1217.56 784.4,1217.67 785.4,1217.76 786.4,1217.85 787.4,1217.92 788.4,1217.98 789.4,1218.04 790.4,1218.09 791.4,1218.14 792.4,1218.18 793.4,1218.22 794.4,1218.25 795.4,1218.28 796.4,1218.31 797.4,1218.34 798.4,1218.38 799.4,1218.41 802.4,1218.51 806.4,1218.65 810.4,1218.78 814.4,1218.92 818.4,1219.07 822.4,1219.22 826.4,1219.37 830.4,1219.53 834.4,1219.68 838.4,1219.84 842.4,1219.99 846.4,1220.14 850.4,1220.29 854.4,1220.43 858.4,1220.55 862.4,1220.67 866.4,1220.78 870.4,1220.87 874.4,1220.95 878.4,1221.02 882.4,1221.14 886.4,1221.28 890.4,1221.41 893.4,1221.47" fill="none" stroke="#000" stroke-width="7.0" stroke-linejoin="round"/>
<path d="M221.85 1179.50 L222.17 1178.54 L223.09 1177.73 L224.47 1177.19 L226.10 1177.00 L227.73 1177.19 L229.11 1177.73 L230.03 1178.54 L230.35 1179.50 L230.52 1180.50 L230.66 1186.50 L230.80 1192.50 L230.98 1198.50 L231.01 1199.25 L231.04 1200.00 L231.08 1200.75 L231.11 1201.50 L231.15 1202.25 L231.20 1203.00 L231.25 1203.75 L231.31 1204.50 L231.37 1205.25 L231.45 1206.00 L231.54 1206.75 L231.65 1207.50 L231.79 1208.25 L231.98 1209.00 L231.98 1209.01 L233.48 1212.15 L218.72 1211.83 L220.22 1209.01 L220.22 1209.00 L220.41 1208.25 L220.55 1207.50 L220.66 1206.75 L220.75 1206.00 L220.83 1205.25 L220.89 1204.50 L220.95 1203.75 L221.00 1203.00 L221.05 1202.25 L221.09 1201.50 L221.12 1200.75 L221.16 1200.00 L221.19 1199.25 L221.22 1198.50 L221.40 1192.50 L221.54 1186.50 L221.68 1180.50Z M244.25 1189.30 L244.57 1188.34 L245.49 1187.53 L246.87 1186.99 L248.50 1186.80 L250.13 1186.99 L251.51 1187.53 L252.43 1188.34 L252.75 1189.30 L252.99 1190.30 L253.22 1196.30 L253.51 1202.30 L253.56 1203.05 L253.61 1203.80 L253.67 1204.55 L253.74 1205.30 L253.82 1206.05 L253.92 1206.80 L254.04 1207.55 L254.19 1208.30 L254.38 1209.05 L254.38 1209.05 L255.88 1211.91 L241.12 1212.16 L242.62 1209.05 L242.62 1209.05 L242.81 1208.30 L242.96 1207.55 L243.08 1206.80 L243.18 1206.05 L243.26 1205.30 L243.33 1204.55 L243.39 1203.80 L243.44 1203.05 L243.49 1202.30 L243.78 1196.30 L244.01 1190.30Z M269.50 1131.50 L269.80 1130.54 L270.67 1129.73 L271.97 1129.19 L273.50 1129.00 L275.03 1129.19 L276.33 1129.73 L277.20 1130.54 L277.50 1131.50 L277.61 1132.50 L277.68 1138.50 L277.74 1144.50 L277.80 1150.50 L277.85 1156.50 L277.91 1162.50 L277.98 1168.50 L278.05 1174.50 L278.14 1180.50 L278.26 1186.50 L278.41 1192.50 L278.65 1198.50 L278.69 1199.25 L278.74 1200.00 L278.79 1200.75 L278.84 1201.50 L278.90 1202.25 L278.97 1203.00 L279.05 1203.75 L279.13 1204.50 L279.24 1205.25 L279.36 1206.00 L279.51 1206.75 L279.70 1207.50 L279.94 1208.25 L280.07 1208.57 L281.57 1211.45 L265.43 1211.72 L266.93 1208.57 L267.06 1208.25 L267.30 1207.50 L267.49 1206.75 L267.64 1206.00 L267.76 1205.25 L267.87 1204.50 L267.95 1203.75 L268.03 1203.00 L268.10 1202.25 L268.16 1201.50 L268.21 1200.75 L268.26 1200.00 L268.31 1199.25 L268.35 1198.50 L268.59 1192.50 L268.74 1186.50 L268.86 1180.50 L268.95 1174.50 L269.02 1168.50 L269.09 1162.50 L269.15 1156.50 L269.20 1150.50 L269.26 1144.50 L269.32 1138.50 L269.39 1132.50Z M296.80 1174.50 L297.10 1173.54 L297.97 1172.73 L299.27 1172.19 L300.80 1172.00 L302.33 1172.19 L303.63 1172.73 L304.50 1173.54 L304.80 1174.50 L304.93 1175.50 L305.03 1181.50 L305.13 1187.50 L305.25 1193.50 L305.42 1199.50 L305.45 1200.25 L305.49 1201.00 L305.52 1201.75 L305.56 1202.50 L305.61 1203.25 L305.66 1204.00 L305.73 1204.75 L305.80 1205.50 L305.89 1206.25 L306.01 1207.00 L306.16 1207.75 L306.18 1207.86 L307.68 1210.52 L293.92 1211.16 L295.42 1207.86 L295.44 1207.75 L295.59 1207.00 L295.71 1206.25 L295.80 1205.50 L295.87 1204.75 L295.94 1204.00 L295.99 1203.25 L296.04 1202.50 L296.08 1201.75 L296.11 1201.00 L296.15 1200.25 L296.18 1199.50 L296.35 1193.50 L296.47 1187.50 L296.57 1181.50 L296.67 1175.50Z M447.75 1199.00 L448.04 1198.04 L448.85 1197.23 L450.06 1196.69 L451.50 1196.50 L452.94 1196.69 L454.15 1197.23 L454.96 1198.04 L455.25 1199.00 L455.83 1200.00 L455.91 1200.75 L455.99 1201.50 L456.08 1202.25 L456.18 1203.00 L456.28 1203.75 L456.40 1204.50 L456.54 1205.25 L456.70 1206.00 L456.90 1206.75 L457.15 1207.50 L457.17 1207.53 L458.67 1210.55 L444.33 1210.51 L445.83 1207.53 L445.85 1207.50 L446.10 1206.75 L446.30 1206.00 L446.46 1205.25 L446.60 1204.50 L446.72 1203.75 L446.82 1203.00 L446.92 1202.25 L447.01 1201.50 L447.09 1200.75 L447.17 1200.00Z M497.00 1120.25 L497.30 1119.29 L498.17 1118.48 L499.47 1117.94 L501.00 1117.75 L502.53 1117.94 L503.83 1118.48 L504.70 1119.29 L505.00 1120.25 L505.12 1121.25 L505.20 1127.25 L505.27 1133.25 L505.33 1139.25 L505.39 1145.25 L505.45 1151.25 L505.51 1157.25 L505.58 1163.25 L505.66 1169.25 L505.76 1175.25 L505.87 1181.25 L506.02 1187.25 L506.23 1193.25 L506.56 1199.25 L506.62 1200.00 L506.68 1200.75 L506.75 1201.50 L506.83 1202.25 L506.92 1203.00 L507.02 1203.75 L507.14 1204.50 L507.27 1205.25 L507.44 1206.00 L507.64 1206.75 L507.90 1207.50 L508.25 1208.25 L508.30 1208.34 L509.80 1211.68 L492.20 1211.01 L493.70 1208.34 L493.75 1208.25 L494.10 1207.50 L494.36 1206.75 L494.56 1206.00 L494.73 1205.25 L494.86 1204.50 L494.98 1203.75 L495.08 1203.00 L495.17 1202.25 L495.25 1201.50 L495.32 1200.75 L495.38 1200.00 L495.44 1199.25 L495.77 1193.25 L495.98 1187.25 L496.13 1181.25 L496.24 1175.25 L496.34 1169.25 L496.42 1163.25 L496.49 1157.25 L496.55 1151.25 L496.61 1145.25 L496.67 1139.25 L496.73 1133.25 L496.80 1127.25 L496.88 1121.25Z M698.80 908.25 L699.14 907.29 L700.12 906.48 L701.58 905.94 L703.30 905.75 L705.02 905.94 L706.48 906.48 L707.46 907.29 L707.80 908.25 L707.86 909.25 L707.91 915.25 L707.94 921.25 L707.96 927.25 L707.99 933.25 L708.01 939.25 L708.03 945.25 L708.05 951.25 L708.07 957.25 L708.09 963.25 L708.10 969.25 L708.12 975.25 L708.14 981.25 L708.16 987.25 L708.18 993.25 L708.19 999.25 L708.21 1005.25 L708.23 1011.25 L708.25 1017.25 L708.27 1023.25 L708.29 1029.25 L708.31 1035.25 L708.33 1041.25 L708.35 1047.25 L708.37 1053.25 L708.39 1059.25 L708.41 1065.25 L708.44 1071.25 L708.46 1077.25 L708.49 1083.25 L708.52 1089.25 L708.55 1095.25 L708.58 1101.25 L708.61 1107.25 L708.65 1113.25 L708.69 1119.25 L708.73 1125.25 L708.77 1131.25 L708.82 1137.25 L708.88 1143.25 L708.94 1149.25 L709.00 1155.25 L709.08 1161.25 L709.17 1167.25 L709.28 1173.25 L709.41 1179.25 L709.58 1185.25 L709.79 1191.25 L710.10 1197.25 L710.58 1203.25 L710.66 1204.00 L710.75 1204.75 L710.85 1205.50 L710.96 1206.25 L711.07 1207.00 L711.21 1207.75 L711.36 1208.50 L711.53 1209.25 L711.72 1210.00 L711.95 1210.75 L712.23 1211.50 L712.56 1212.25 L712.99 1213.00 L713.54 1213.75 L713.88 1214.11 L715.38 1217.45 L691.22 1216.84 L692.72 1214.11 L693.06 1213.75 L693.61 1213.00 L694.04 1212.25 L694.37 1211.50 L694.65 1210.75 L694.88 1210.00 L695.07 1209.25 L695.24 1208.50 L695.39 1207.75 L695.53 1207.00 L695.64 1206.25 L695.75 1205.50 L695.85 1204.75 L695.94 1204.00 L696.02 1203.25 L696.50 1197.25 L696.81 1191.25 L697.02 1185.25 L697.19 1179.25 L697.32 1173.25 L697.43 1167.25 L697.52 1161.25 L697.60 1155.25 L697.66 1149.25 L697.72 1143.25 L697.78 1137.25 L697.83 1131.25 L697.87 1125.25 L697.91 1119.25 L697.95 1113.25 L697.99 1107.25 L698.02 1101.25 L698.05 1095.25 L698.08 1089.25 L698.11 1083.25 L698.14 1077.25 L698.16 1071.25 L698.19 1065.25 L698.21 1059.25 L698.23 1053.25 L698.25 1047.25 L698.27 1041.25 L698.29 1035.25 L698.31 1029.25 L698.33 1023.25 L698.35 1017.25 L698.37 1011.25 L698.39 1005.25 L698.41 999.25 L698.42 993.25 L698.44 987.25 L698.46 981.25 L698.48 975.25 L698.50 969.25 L698.51 963.25 L698.53 957.25 L698.55 951.25 L698.57 945.25 L698.59 939.25 L698.61 933.25 L698.64 927.25 L698.66 921.25 L698.69 915.25 L698.74 909.25Z M765.40 968.25 L765.70 967.29 L766.57 966.48 L767.87 965.94 L769.40 965.75 L770.93 965.94 L772.23 966.48 L773.10 967.29 L773.40 968.25 L773.57 969.25 L773.68 975.25 L773.76 981.25 L773.83 987.25 L773.89 993.25 L773.95 999.25 L774.00 1005.25 L774.06 1011.25 L774.11 1017.25 L774.16 1023.25 L774.21 1029.25 L774.26 1035.25 L774.31 1041.25 L774.37 1047.25 L774.42 1053.25 L774.47 1059.25 L774.53 1065.25 L774.59 1071.25 L774.64 1077.25 L774.71 1083.25 L774.77 1089.25 L774.84 1095.25 L774.91 1101.25 L774.98 1107.25 L775.06 1113.25 L775.14 1119.25 L775.23 1125.25 L775.33 1131.25 L775.44 1137.25 L775.55 1143.25 L775.68 1149.25 L775.83 1155.25 L775.99 1161.25 L776.18 1167.25 L776.41 1173.25 L776.67 1179.25 L777.01 1185.25 L777.44 1191.25 L778.04 1197.25 L778.96 1203.25 L780.67 1209.25 L781.00 1210.00 L781.38 1210.75 L781.83 1211.50 L782.35 1212.25 L782.98 1213.00 L783.75 1213.75 L784.75 1214.50 L785.40 1215.25 L785.40 1215.28 L786.90 1218.52 L751.90 1218.02 L753.40 1215.28 L753.40 1215.25 L754.05 1214.50 L755.05 1213.75 L755.82 1213.00 L756.45 1212.25 L756.97 1211.50 L757.42 1210.75 L757.80 1210.00 L758.13 1209.25 L759.84 1203.25 L760.76 1197.25 L761.36 1191.25 L761.79 1185.25 L762.13 1179.25 L762.39 1173.25 L762.62 1167.25 L762.81 1161.25 L762.97 1155.25 L763.12 1149.25 L763.25 1143.25 L763.36 1137.25 L763.47 1131.25 L763.57 1125.25 L763.66 1119.25 L763.74 1113.25 L763.82 1107.25 L763.89 1101.25 L763.96 1095.25 L764.03 1089.25 L764.09 1083.25 L764.16 1077.25 L764.21 1071.25 L764.27 1065.25 L764.33 1059.25 L764.38 1053.25 L764.43 1047.25 L764.49 1041.25 L764.54 1035.25 L764.59 1029.25 L764.64 1023.25 L764.69 1017.25 L764.74 1011.25 L764.80 1005.25 L764.85 999.25 L764.91 993.25 L764.97 987.25 L765.04 981.25 L765.12 975.25 L765.23 969.25Z" fill="#000"/>
<path d="M703.30 1210.11 Q703.96 1217.46 706.30 1220.91 L700.30 1220.91 Q702.64 1217.46 703.30 1210.11Z M769.40 1199.28 Q770.39 1214.79 773.90 1222.08 L764.90 1222.08 Q768.41 1214.79 769.40 1199.28Z" fill="#fff"/>
</g>
<rect x="198.4" y="809.6" width="695.00" height="416.90" fill="none" stroke="#1a1a1a" stroke-width="7.4"/>
<path d="M314.23 809.6 v11.2 M314.23 1226.5 v-11.2 M430.07 809.6 v11.2 M430.07 1226.5 v-11.2 M545.90 809.6 v11.2 M545.90 1226.5 v-11.2 M661.73 809.6 v11.2 M661.73 1226.5 v-11.2 M777.57 809.6 v11.2 M777.57 1226.5 v-11.2 M198.4 879.42 h9.0 M893.4 879.42 h-10.2 M198.4 949.23 h9.0 M893.4 949.23 h-10.2 M198.4 1019.05 h9.0 M893.4 1019.05 h-10.2 M198.4 1088.87 h9.0 M893.4 1088.87 h-10.2 M198.4 1158.68 h9.0 M893.4 1158.68 h-10.2" stroke="#1a1a1a" stroke-width="6.4" fill="none"/>
<text x="174.7" y="834.3" font-size="61.8" text-anchor="end">0.6</text>
<text x="174.7" y="904.0" font-size="61.8" text-anchor="end">0.5</text>
<text x="174.7" y="973.8" font-size="61.8" text-anchor="end">0.4</text>
<text x="174.7" y="1043.5" font-size="61.8" text-anchor="end">0.3</text>
<text x="174.7" y="1113.3" font-size="61.8" text-anchor="end">0.2</text>
<text x="174.7" y="1183.0" font-size="61.8" text-anchor="end">0.1</text>
<rect x="143.54" y="1177.23" width="12.33" height="7.42" fill="#fff"/><rect x="161.33" y="1177.23" width="11.85" height="7.42" fill="#fff"/>
<text x="174.7" y="1252.8" font-size="61.8" text-anchor="end">0</text>
<text x="153.6" y="1313.0" font-size="61.8">0.4</text>
<text x="270.5" y="1313.0" font-size="61.8">0.5</text>
<text x="386.9" y="1313.0" font-size="61.8">0.6</text>
<text x="503.2" y="1313.0" font-size="61.8">0.7</text>
<text x="618.9" y="1313.0" font-size="61.8">0.8</text>
<text x="735.2" y="1313.0" font-size="61.8">0.9</text>
<text x="895.4" y="1313.0" font-size="61.8" text-anchor="middle">1</text>
<rect x="881.42" y="1307.18" width="12.33" height="7.42" fill="#fff"/><rect x="899.22" y="1307.18" width="11.85" height="7.42" fill="#fff"/>
<text x="545.4" y="1396.0" font-size="61.4" text-anchor="middle">Wavelength [µm]</text>
<text x="546.4" y="1474.1" font-size="61.8" text-anchor="middle" letter-spacing="1.0">(c)</text>
<text transform="translate(58.3,1018.8) rotate(-90) scale(0.93,1)" font-size="61.8" text-anchor="middle">A</text>
<text x="254.6" y="899.4" font-size="51.3">p = 550 nm</text>
</g>
<g id="panel-d">
<clipPath id="clip-d"><rect x="1145.9" y="809.6" width="696.8999999999999" height="416.9"/></clipPath>
<g clip-path="url(#clip-d)">
<polyline points="1145.9,1211.60 1149.9,1211.60 1153.9,1211.60 1157.9,1211.60 1161.9,1211.60 1165.9,1211.60 1169.9,1211.60 1173.9,1211.60 1177.9,1211.61 1181.9,1211.65 1185.9,1211.70 1189.9,1211.76 1193.9,1211.82 1197.9,1211.89 1201.9,1211.96 1205.9,1212.02 1209.9,1212.08 1213.9,1212.13 1217.9,1212.17 1221.9,1212.19 1225.9,1212.11 1229.9,1212.02 1233.9,1211.91 1237.9,1211.78 1241.9,1211.65 1245.9,1211.51 1249.9,1211.37 1253.9,1211.22 1257.9,1211.09 1261.9,1210.96 1265.9,1210.84 1269.9,1210.74 1273.9,1210.65 1277.9,1210.59 1281.9,1210.51 1285.9,1210.42 1289.9,1210.31 1293.9,1210.19 1297.9,1210.06 1301.9,1209.92 1305.9,1209.78 1309.9,1209.65 1313.9,1209.52 1317.9,1209.41 1321.9,1209.31 1325.9,1209.23 1329.9,1209.21 1333.9,1209.25 1337.9,1209.29 1341.9,1209.35 1345.9,1209.40 1349.9,1209.47 1353.9,1209.53 1357.9,1209.59 1361.9,1209.65 1365.9,1209.70 1369.9,1209.75 1373.9,1209.78 1377.9,1209.82 1381.9,1209.87 1385.9,1209.94 1389.9,1210.02 1393.9,1210.11 1397.9,1210.20 1401.9,1210.29 1405.9,1210.38 1409.9,1210.47 1413.9,1210.55 1417.9,1210.62 1421.9,1210.68 1425.9,1210.73 1429.9,1210.80 1433.9,1210.89 1437.9,1211.00 1441.9,1211.12 1445.9,1211.24 1449.9,1211.38 1453.9,1211.51 1457.9,1211.64 1461.9,1211.77 1465.9,1211.89 1469.9,1212.00 1473.9,1212.09 1477.9,1212.16 1481.9,1212.22 1485.9,1212.29 1489.9,1212.37 1493.9,1212.47 1497.9,1212.57 1501.9,1212.69 1505.9,1212.81 1509.9,1212.93 1513.9,1213.05 1517.9,1213.18 1521.9,1213.30 1525.9,1213.41 1529.9,1213.52 1533.9,1213.61 1537.9,1213.70 1541.9,1213.76 1545.9,1213.82 1549.9,1213.91 1553.9,1214.01 1557.9,1214.14 1561.9,1214.27 1565.9,1214.42 1569.9,1214.56 1573.9,1214.70 1577.9,1214.84 1581.9,1214.96 1585.9,1215.07 1589.9,1215.15 1593.9,1215.22 1597.9,1215.32 1601.9,1215.44 1605.9,1215.58 1609.9,1215.74 1613.9,1215.90 1617.9,1216.06 1621.9,1216.23 1625.9,1216.38 1629.9,1216.52 1633.9,1216.64 1637.9,1216.74 1641.9,1216.80 1645.9,1216.84 1649.9,1216.90 1653.9,1216.97 1657.9,1217.04 1661.9,1217.12 1665.9,1217.20 1669.9,1217.28 1673.9,1217.35 1677.9,1217.42 1681.9,1217.47 1685.9,1217.51 1689.9,1217.58 1693.9,1217.76 1697.9,1217.98 1701.9,1218.23 1703.5,1218.32 1704.5,1218.38 1705.5,1218.43 1705.9,1218.45 1706.5,1218.48 1707.5,1218.53 1708.5,1218.57 1709.5,1218.61 1709.9,1218.62 1710.5,1218.64 1711.5,1218.66 1712.5,1218.68 1713.5,1218.69 1713.9,1218.69 1714.5,1218.68 1715.5,1218.66 1716.5,1218.64 1717.5,1218.61 1717.9,1218.60 1718.5,1218.57 1719.5,1218.53 1720.5,1218.48 1721.5,1218.41 1721.9,1218.38 1722.5,1218.32 1723.5,1218.21 1724.5,1218.07 1725.5,1217.89 1725.9,1217.80 1726.5,1217.65 1727.5,1217.35 1728.5,1216.97 1729.5,1216.49 1729.9,1216.28 1730.5,1215.95 1731.5,1215.40 1732.5,1214.98 1733.5,1214.83 1733.9,1214.87 1734.5,1215.03 1735.5,1215.50 1736.5,1216.09 1737.5,1216.68 1737.9,1216.90 1738.5,1217.20 1739.5,1217.63 1740.5,1217.98 1741.5,1218.26 1741.9,1218.36 1742.5,1218.49 1743.5,1218.67 1744.5,1218.82 1745.5,1218.95 1745.9,1218.99 1746.5,1219.05 1747.5,1219.15 1748.5,1219.23 1749.5,1219.29 1749.9,1219.32 1750.5,1219.35 1751.5,1219.41 1752.5,1219.46 1753.5,1219.50 1753.9,1219.51 1754.5,1219.54 1755.5,1219.57 1756.5,1219.60 1757.5,1219.62 1757.9,1219.63 1758.5,1219.65 1759.5,1219.67 1760.5,1219.68 1761.5,1219.70 1761.9,1219.70 1762.5,1219.71 1763.5,1219.71 1765.9,1219.71 1768.2,1219.71 1769.2,1219.70 1769.9,1219.70 1770.2,1219.70 1771.2,1219.69 1772.2,1219.68 1773.2,1219.67 1773.9,1219.66 1774.2,1219.65 1775.2,1219.63 1776.2,1219.61 1777.2,1219.59 1777.9,1219.57 1778.2,1219.56 1779.2,1219.52 1780.2,1219.48 1781.2,1219.43 1781.9,1219.39 1782.2,1219.37 1783.2,1219.30 1784.2,1219.21 1785.2,1219.11 1785.9,1219.03 1786.2,1218.99 1787.2,1218.85 1788.2,1218.68 1789.2,1218.47 1789.9,1218.30 1790.2,1218.23 1791.2,1217.94 1792.2,1217.61 1793.2,1217.23 1793.9,1216.95 1794.2,1216.83 1795.2,1216.43 1796.2,1216.08 1797.2,1215.84 1797.9,1215.77 1798.2,1215.76 1799.2,1215.86 1800.2,1216.12 1801.2,1216.49 1801.9,1216.78 1802.2,1216.91 1803.2,1217.34 1804.2,1217.73 1805.2,1218.08 1805.9,1218.31 1806.2,1218.39 1807.2,1218.66 1808.2,1218.88 1809.2,1219.08 1809.9,1219.19 1810.2,1219.24 1811.2,1219.38 1812.2,1219.50 1813.2,1219.60 1813.9,1219.67 1814.2,1219.69 1815.2,1219.77 1816.2,1219.84 1817.2,1219.90 1817.9,1219.94 1818.2,1219.95 1819.2,1220.00 1820.2,1220.04 1821.2,1220.08 1821.9,1220.11 1822.2,1220.12 1823.2,1220.15 1824.2,1220.17 1825.2,1220.20 1825.9,1220.22 1826.2,1220.23 1827.2,1220.28 1828.2,1220.34 1829.9,1220.46 1833.9,1220.78 1837.9,1221.10 1841.9,1221.34 1842.8,1221.38" fill="none" stroke="#000" stroke-width="4.8" stroke-linejoin="round"/>
<path d="M1206.85 1185.75 L1214.35 1185.75 L1214.45 1186.75 L1214.65 1192.75 L1214.84 1198.75 L1214.87 1199.50 L1214.90 1200.25 L1214.94 1201.00 L1214.97 1201.75 L1215.01 1202.50 L1215.05 1203.25 L1215.10 1204.00 L1215.15 1204.75 L1215.22 1205.50 L1215.29 1206.25 L1215.37 1207.00 L1215.48 1207.75 L1215.61 1208.50 L1215.79 1209.25 L1216.05 1210.00 L1216.14 1210.19 L1217.64 1212.17 L1203.56 1211.98 L1205.06 1210.19 L1205.15 1210.00 L1205.41 1209.25 L1205.59 1208.50 L1205.72 1207.75 L1205.83 1207.00 L1205.91 1206.25 L1205.98 1205.50 L1206.05 1204.75 L1206.10 1204.00 L1206.15 1203.25 L1206.19 1202.50 L1206.23 1201.75 L1206.26 1201.00 L1206.30 1200.25 L1206.33 1199.50 L1206.36 1198.75 L1206.55 1192.75 L1206.75 1186.75Z M1234.05 1177.50 L1241.55 1177.50 L1241.64 1178.50 L1241.80 1184.50 L1241.94 1190.50 L1242.11 1196.50 L1242.37 1202.50 L1242.42 1203.25 L1242.47 1204.00 L1242.53 1204.75 L1242.61 1205.50 L1242.69 1206.25 L1242.79 1207.00 L1242.92 1207.75 L1243.09 1208.50 L1243.32 1209.25 L1243.61 1209.89 L1245.11 1211.54 L1230.49 1212.00 L1231.99 1209.89 L1232.28 1209.25 L1232.51 1208.50 L1232.68 1207.75 L1232.81 1207.00 L1232.91 1206.25 L1232.99 1205.50 L1233.07 1204.75 L1233.13 1204.00 L1233.18 1203.25 L1233.23 1202.50 L1233.49 1196.50 L1233.66 1190.50 L1233.80 1184.50 L1233.96 1178.50Z M1257.70 1136.50 L1265.70 1136.50 L1265.76 1137.50 L1265.86 1143.50 L1265.93 1149.50 L1265.99 1155.50 L1266.06 1161.50 L1266.12 1167.50 L1266.20 1173.50 L1266.28 1179.50 L1266.39 1185.50 L1266.54 1191.50 L1266.76 1197.50 L1266.80 1198.25 L1266.84 1199.00 L1266.89 1199.75 L1266.94 1200.50 L1266.99 1201.25 L1267.05 1202.00 L1267.12 1202.75 L1267.20 1203.50 L1267.29 1204.25 L1267.39 1205.00 L1267.52 1205.75 L1267.68 1206.50 L1267.88 1207.25 L1268.16 1208.00 L1268.56 1208.75 L1268.79 1209.07 L1270.29 1210.73 L1253.11 1211.25 L1254.61 1209.07 L1254.84 1208.75 L1255.24 1208.00 L1255.52 1207.25 L1255.72 1206.50 L1255.88 1205.75 L1256.01 1205.00 L1256.11 1204.25 L1256.20 1203.50 L1256.28 1202.75 L1256.35 1202.00 L1256.41 1201.25 L1256.46 1200.50 L1256.51 1199.75 L1256.56 1199.00 L1256.60 1198.25 L1256.64 1197.50 L1256.86 1191.50 L1257.01 1185.50 L1257.12 1179.50 L1257.20 1173.50 L1257.28 1167.50 L1257.34 1161.50 L1257.41 1155.50 L1257.47 1149.50 L1257.54 1143.50 L1257.64 1137.50Z M1291.05 1163.25 L1298.55 1163.25 L1298.61 1164.25 L1298.72 1170.25 L1298.80 1176.25 L1298.88 1182.25 L1298.98 1188.25 L1299.11 1194.25 L1299.32 1200.25 L1299.36 1201.00 L1299.41 1201.75 L1299.46 1202.50 L1299.51 1203.25 L1299.58 1204.00 L1299.66 1204.75 L1299.75 1205.50 L1299.88 1206.25 L1300.04 1207.00 L1300.27 1207.75 L1300.50 1208.26 L1302.00 1209.92 L1287.60 1210.38 L1289.10 1208.26 L1289.33 1207.75 L1289.56 1207.00 L1289.72 1206.25 L1289.85 1205.50 L1289.94 1204.75 L1290.02 1204.00 L1290.09 1203.25 L1290.14 1202.50 L1290.19 1201.75 L1290.24 1201.00 L1290.28 1200.25 L1290.49 1194.25 L1290.62 1188.25 L1290.72 1182.25 L1290.80 1176.25 L1290.88 1170.25 L1290.99 1164.25Z M1453.00 1202.50 L1457.00 1202.50 L1458.06 1203.50 L1458.47 1204.25 L1458.85 1205.00 L1459.25 1205.75 L1459.67 1206.50 L1460.15 1207.25 L1460.73 1208.00 L1461.48 1208.75 L1462.54 1209.50 L1462.82 1209.65 L1464.32 1211.85 L1445.68 1211.24 L1447.18 1209.65 L1447.46 1209.50 L1448.52 1208.75 L1449.27 1208.00 L1449.85 1207.25 L1450.33 1206.50 L1450.75 1205.75 L1451.15 1205.00 L1451.53 1204.25 L1451.94 1203.50Z M1505.75 1099.00 L1513.25 1099.00 L1513.31 1100.00 L1513.40 1106.00 L1513.47 1112.00 L1513.52 1118.00 L1513.57 1124.00 L1513.62 1130.00 L1513.67 1136.00 L1513.72 1142.00 L1513.77 1148.00 L1513.83 1154.00 L1513.89 1160.00 L1513.97 1166.00 L1514.05 1172.00 L1514.15 1178.00 L1514.28 1184.00 L1514.45 1190.00 L1514.69 1196.00 L1515.09 1202.00 L1515.17 1202.75 L1515.25 1203.50 L1515.34 1204.25 L1515.44 1205.00 L1515.56 1205.75 L1515.70 1206.50 L1515.87 1207.25 L1516.07 1208.00 L1516.33 1208.75 L1516.66 1209.50 L1517.12 1210.25 L1517.83 1211.00 L1517.86 1211.02 L1519.36 1213.23 L1499.64 1212.63 L1501.14 1211.02 L1501.17 1211.00 L1501.88 1210.25 L1502.34 1209.50 L1502.67 1208.75 L1502.93 1208.00 L1503.13 1207.25 L1503.30 1206.50 L1503.44 1205.75 L1503.56 1205.00 L1503.66 1204.25 L1503.75 1203.50 L1503.83 1202.75 L1503.91 1202.00 L1504.31 1196.00 L1504.55 1190.00 L1504.72 1184.00 L1504.85 1178.00 L1504.95 1172.00 L1505.03 1166.00 L1505.11 1160.00 L1505.17 1154.00 L1505.23 1148.00 L1505.28 1142.00 L1505.33 1136.00 L1505.38 1130.00 L1505.43 1124.00 L1505.48 1118.00 L1505.53 1112.00 L1505.60 1106.00 L1505.69 1100.00Z M1729.50 883.25 L1737.50 883.25 L1737.53 884.25 L1737.57 890.25 L1737.60 896.25 L1737.62 902.25 L1737.64 908.25 L1737.66 914.25 L1737.68 920.25 L1737.69 926.25 L1737.71 932.25 L1737.72 938.25 L1737.74 944.25 L1737.75 950.25 L1737.76 956.25 L1737.78 962.25 L1737.79 968.25 L1737.80 974.25 L1737.82 980.25 L1737.83 986.25 L1737.85 992.25 L1737.86 998.25 L1737.87 1004.25 L1737.89 1010.25 L1737.90 1016.25 L1737.92 1022.25 L1737.94 1028.25 L1737.95 1034.25 L1737.97 1040.25 L1737.99 1046.25 L1738.00 1052.25 L1738.02 1058.25 L1738.04 1064.25 L1738.06 1070.25 L1738.08 1076.25 L1738.10 1082.25 L1738.13 1088.25 L1738.15 1094.25 L1738.17 1100.25 L1738.20 1106.25 L1738.23 1112.25 L1738.26 1118.25 L1738.30 1124.25 L1738.33 1130.25 L1738.37 1136.25 L1738.42 1142.25 L1738.47 1148.25 L1738.52 1154.25 L1738.58 1160.25 L1738.65 1166.25 L1738.74 1172.25 L1738.84 1178.25 L1738.96 1184.25 L1739.12 1190.25 L1739.34 1196.25 L1739.66 1202.25 L1740.20 1208.25 L1740.30 1209.00 L1740.41 1209.75 L1740.53 1210.50 L1740.68 1211.25 L1740.84 1212.00 L1741.02 1212.75 L1741.25 1213.50 L1741.51 1214.25 L1741.85 1215.00 L1742.28 1215.75 L1742.88 1216.50 L1743.76 1217.25 L1744.13 1217.48 L1745.63 1219.69 L1721.37 1219.11 L1722.87 1217.48 L1723.24 1217.25 L1724.12 1216.50 L1724.72 1215.75 L1725.15 1215.00 L1725.49 1214.25 L1725.75 1213.50 L1725.98 1212.75 L1726.16 1212.00 L1726.32 1211.25 L1726.47 1210.50 L1726.59 1209.75 L1726.70 1209.00 L1726.80 1208.25 L1727.34 1202.25 L1727.66 1196.25 L1727.88 1190.25 L1728.04 1184.25 L1728.16 1178.25 L1728.26 1172.25 L1728.35 1166.25 L1728.42 1160.25 L1728.48 1154.25 L1728.53 1148.25 L1728.58 1142.25 L1728.63 1136.25 L1728.67 1130.25 L1728.70 1124.25 L1728.74 1118.25 L1728.77 1112.25 L1728.80 1106.25 L1728.83 1100.25 L1728.85 1094.25 L1728.87 1088.25 L1728.90 1082.25 L1728.92 1076.25 L1728.94 1070.25 L1728.96 1064.25 L1728.98 1058.25 L1729.00 1052.25 L1729.01 1046.25 L1729.03 1040.25 L1729.05 1034.25 L1729.06 1028.25 L1729.08 1022.25 L1729.10 1016.25 L1729.11 1010.25 L1729.13 1004.25 L1729.14 998.25 L1729.15 992.25 L1729.17 986.25 L1729.18 980.25 L1729.20 974.25 L1729.21 968.25 L1729.22 962.25 L1729.24 956.25 L1729.25 950.25 L1729.26 944.25 L1729.28 938.25 L1729.29 932.25 L1729.31 926.25 L1729.32 920.25 L1729.34 914.25 L1729.36 908.25 L1729.38 902.25 L1729.40 896.25 L1729.43 890.25 L1729.47 884.25Z M1794.20 949.00 L1802.20 949.00 L1802.29 950.00 L1802.44 956.00 L1802.54 962.00 L1802.61 968.00 L1802.68 974.00 L1802.74 980.00 L1802.80 986.00 L1802.85 992.00 L1802.90 998.00 L1802.96 1004.00 L1803.01 1010.00 L1803.06 1016.00 L1803.11 1022.00 L1803.16 1028.00 L1803.21 1034.00 L1803.27 1040.00 L1803.32 1046.00 L1803.37 1052.00 L1803.43 1058.00 L1803.49 1064.00 L1803.55 1070.00 L1803.61 1076.00 L1803.67 1082.00 L1803.74 1088.00 L1803.81 1094.00 L1803.88 1100.00 L1803.96 1106.00 L1804.04 1112.00 L1804.13 1118.00 L1804.22 1124.00 L1804.32 1130.00 L1804.43 1136.00 L1804.56 1142.00 L1804.69 1148.00 L1804.84 1154.00 L1805.01 1160.00 L1805.20 1166.00 L1805.42 1172.00 L1805.69 1178.00 L1806.02 1184.00 L1806.43 1190.00 L1806.98 1196.00 L1807.78 1202.00 L1809.09 1208.00 L1809.32 1208.75 L1809.57 1209.50 L1809.85 1210.25 L1810.17 1211.00 L1810.52 1211.75 L1810.92 1212.50 L1811.39 1213.25 L1811.94 1214.00 L1812.59 1214.75 L1813.39 1215.50 L1814.20 1216.25 L1814.20 1217.00 L1814.20 1217.75 L1814.20 1218.39 L1815.70 1220.44 L1780.70 1220.12 L1782.20 1218.39 L1782.20 1217.75 L1782.20 1217.00 L1782.20 1216.25 L1783.01 1215.50 L1783.81 1214.75 L1784.46 1214.00 L1785.01 1213.25 L1785.48 1212.50 L1785.88 1211.75 L1786.23 1211.00 L1786.55 1210.25 L1786.83 1209.50 L1787.08 1208.75 L1787.31 1208.00 L1788.62 1202.00 L1789.42 1196.00 L1789.97 1190.00 L1790.38 1184.00 L1790.71 1178.00 L1790.98 1172.00 L1791.20 1166.00 L1791.39 1160.00 L1791.56 1154.00 L1791.71 1148.00 L1791.84 1142.00 L1791.97 1136.00 L1792.08 1130.00 L1792.18 1124.00 L1792.27 1118.00 L1792.36 1112.00 L1792.44 1106.00 L1792.52 1100.00 L1792.59 1094.00 L1792.66 1088.00 L1792.73 1082.00 L1792.79 1076.00 L1792.85 1070.00 L1792.91 1064.00 L1792.97 1058.00 L1793.03 1052.00 L1793.08 1046.00 L1793.13 1040.00 L1793.19 1034.00 L1793.24 1028.00 L1793.29 1022.00 L1793.34 1016.00 L1793.39 1010.00 L1793.44 1004.00 L1793.50 998.00 L1793.55 992.00 L1793.60 986.00 L1793.66 980.00 L1793.72 974.00 L1793.79 968.00 L1793.86 962.00 L1793.96 956.00 L1794.11 950.00Z" fill="#000"/>
<path d="M1733.50 1212.38 Q1734.27 1218.98 1737.00 1222.08 L1730.00 1222.08 Q1732.73 1218.98 1733.50 1212.38Z M1798.20 1201.29 Q1799.96 1216.05 1806.20 1222.99 L1790.20 1222.99 Q1796.44 1216.05 1798.20 1201.29Z" fill="#fff"/>
</g>
<rect x="1145.9" y="809.6" width="696.90" height="416.90" fill="none" stroke="#1a1a1a" stroke-width="7.4"/>
<path d="M1262.05 809.6 v11.2 M1262.05 1226.5 v-11.2 M1378.20 809.6 v11.2 M1378.20 1226.5 v-11.2 M1494.35 809.6 v11.2 M1494.35 1226.5 v-11.2 M1610.50 809.6 v11.2 M1610.50 1226.5 v-11.2 M1726.65 809.6 v11.2 M1726.65 1226.5 v-11.2 M1145.9 879.42 h9.0 M1842.8 879.42 h-10.2 M1145.9 949.23 h9.0 M1842.8 949.23 h-10.2 M1145.9 1019.05 h9.0 M1842.8 1019.05 h-10.2 M1145.9 1088.87 h9.0 M1842.8 1088.87 h-10.2 M1145.9 1158.68 h9.0 M1842.8 1158.68 h-10.2" stroke="#1a1a1a" stroke-width="6.4" fill="none"/>
<text x="1123.0" y="834.3" font-size="61.8" text-anchor="end">0.6</text>
<text x="1123.0" y="904.0" font-size="61.8" text-anchor="end">0.5</text>
<text x="1123.0" y="973.8" font-size="61.8" text-anchor="end">0.4</text>
<text x="1123.0" y="1043.5" font-size="61.8" text-anchor="end">0.3</text>
<text x="1123.0" y="1113.3" font-size="61.8" text-anchor="end">0.2</text>
<text x="1123.0" y="1183.0" font-size="61.8" text-anchor="end">0.1</text>
<rect x="1091.84" y="1177.23" width="12.33" height="7.42" fill="#fff"/><rect x="1109.63" y="1177.23" width="11.85" height="7.42" fill="#fff"/>
<text x="1123.0" y="1252.8" font-size="61.8" text-anchor="end">0</text>
<text x="1101.9" y="1313.0" font-size="61.8">0.4</text>
<text x="1218.8" y="1313.0" font-size="61.8">0.5</text>
<text x="1335.2" y="1313.0" font-size="61.8">0.6</text>
<text x="1451.5" y="1313.0" font-size="61.8">0.7</text>
<text x="1567.2" y="1313.0" font-size="61.8">0.8</text>
<text x="1683.5" y="1313.0" font-size="61.8">0.9</text>
<text x="1844.8" y="1313.0" font-size="61.8" text-anchor="middle">1</text>
<rect x="1830.82" y="1307.18" width="12.33" height="7.42" fill="#fff"/><rect x="1848.62" y="1307.18" width="11.85" height="7.42" fill="#fff"/>
<text x="1493.8" y="1396.0" font-size="61.4" text-anchor="middle">Wavelength [µm]</text>
<text x="1494.8" y="1474.1" font-size="61.8" text-anchor="middle" letter-spacing="1.0">(d)</text>
<text transform="translate(1006.6,1018.8) rotate(-90) scale(0.93,1)" font-size="61.8" text-anchor="middle">A</text>
<text x="1202.9" y="899.4" font-size="51.3">p = 600 nm</text>
</g>
</g>
</svg>
</body>
</html>
